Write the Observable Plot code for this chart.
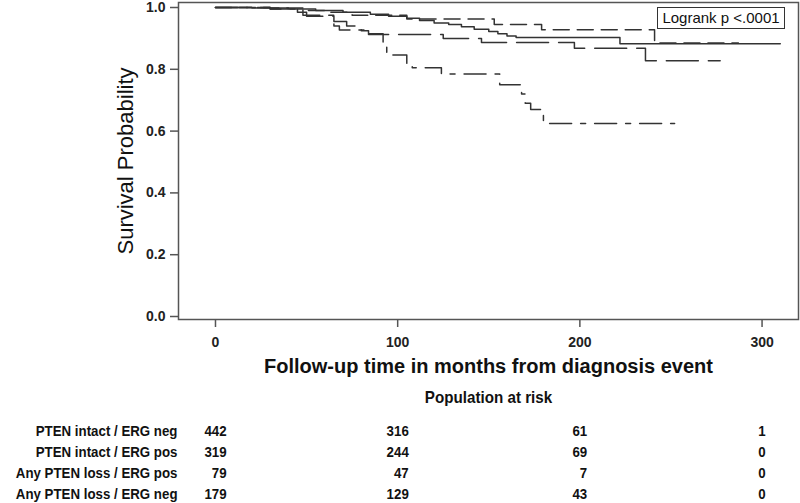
<!DOCTYPE html>
<html><head><meta charset="utf-8">
<script src="https://cdn.jsdelivr.net/npm/d3@7"></script>
<script src="https://cdn.jsdelivr.net/npm/@observablehq/plot@0.6"></script>
<style>
html,body{margin:0;padding:0;background:#fff;}
#wrap{position:relative;width:800px;height:503px;overflow:hidden;font-family:"Liberation Sans",Arial,sans-serif;}
#logrank{position:absolute;left:657px;top:7px;width:126px;height:20px;border:1px solid #333;font-size:15px;line-height:20px;text-align:center;color:#111;background:#fff;box-sizing:content-box;}
svg{display:block;}
.km text{font-family:"Liberation Sans",Arial,sans-serif;}
.km [aria-label="x-axis tick label"] text, .km [aria-label="y-axis tick label"] text{font-weight:bold;}
.risk text{font-family:"Liberation Sans",Arial,sans-serif;font-weight:bold;}
</style>
</head><body>
<div id="wrap"><div id="logrank">Logrank p &lt;.0001</div></div>
<script>
// ---- Data ----
const groups = ["PTEN intact / ERG neg", "PTEN intact / ERG pos", "Any PTEN loss / ERG pos", "Any PTEN loss / ERG neg"];

// PTEN intact / ERG neg (solid)
const intactNegTime = [0, 20, 40, 55, 70, 85, 95, 105, 112, 120, 128, 135, 142, 150, 155, 160, 165, 222, 310];
const intactNegSurv = [1.0, 0.998, 0.995, 0.99, 0.985, 0.978, 0.972, 0.965, 0.958, 0.95, 0.945, 0.938, 0.93, 0.922, 0.915, 0.908, 0.903, 0.883, 0.883];

// PTEN intact / ERG pos (short dash)
const intactPosTime = [0, 30, 50, 62, 75, 105, 153, 179, 241, 287];
const intactPosSurv = [1.0, 0.998, 0.99, 0.985, 0.975, 0.963, 0.945, 0.928, 0.885, 0.885];

// Any PTEN loss / ERG pos (dash-dot)
const lossPosTime = [0, 30, 48, 65, 68, 83, 92, 94, 105, 108, 124, 156, 168, 170, 173, 180, 252];
const lossPosSurv = [1.0, 0.995, 0.975, 0.94, 0.927, 0.915, 0.872, 0.846, 0.82, 0.805, 0.785, 0.75, 0.72, 0.69, 0.67, 0.625, 0.625];

// Any PTEN loss / ERG neg (long dash)
const lossNegTime = [0, 30, 45, 50, 65, 72, 80, 84, 125, 146, 197, 236, 277];
const lossNegSurv = [1.0, 0.995, 0.985, 0.972, 0.955, 0.94, 0.925, 0.913, 0.9, 0.887, 0.868, 0.828, 0.828];

// Population at risk
const riskTimes = [0, 100, 200, 300];
const intactNegRisk = [442, 316, 61, 1];
const intactPosRisk = [319, 244, 69, 0];
const lossPosRisk = [79, 47, 7, 0];
const lossNegRisk = [179, 129, 43, 0];

const xTicks = [0, 100, 200, 300];
const yTicks = [0, 0.2, 0.4, 0.6, 0.8, 1.0];

// ---- Build tables ----
const toSeries = (g, ts, ss) => ts.map((t, i) => ({group: g, t, s: ss[i]}));
const sIntactNeg = toSeries(groups[0], intactNegTime, intactNegSurv);
const sIntactPos = toSeries(groups[1], intactPosTime, intactPosSurv);
const sLossPos = toSeries(groups[2], lossPosTime, lossPosSurv);
const sLossNeg = toSeries(groups[3], lossNegTime, lossNegSurv);

const riskBy = [intactNegRisk, intactPosRisk, lossPosRisk, lossNegRisk];
const riskRows = [];
groups.forEach((g, gi) => riskTimes.forEach((t, ti) => riskRows.push({g, t, n: riskBy[gi][ti], col: ti})));

const xDomain = [-20.3, 320];
const lineColor = "#333";

const main = Plot.plot({
  width: 800, height: 380,
  marginLeft: 178, marginRight: 2, marginTop: 2, marginBottom: 61,
  className: "km",
  style: {fontFamily: "'Liberation Sans', Arial, sans-serif", color: "#222", background: "#fff"},
  x: {domain: xDomain},
  y: {domain: [-0.0097, 1.0162]},
  marks: [
    Plot.axisX({ticks: xTicks, tickSize: 8, tickPadding: 10, label: null, fontSize: 14, fontWeight: "bold", stroke: "#555", strokeWidth: 1.5}),
    Plot.axisY({ticks: yTicks, tickFormat: d3.format(".1f"), tickSize: 8, tickPadding: 5, label: null, fontSize: 14, fontWeight: "bold", stroke: "#555", strokeWidth: 1.5}),
    Plot.line(sIntactNeg, {x: "t", y: "s", curve: "step-after", stroke: lineColor, strokeWidth: 1.5}),
    Plot.line(sIntactPos, {x: "t", y: "s", curve: "step-after", stroke: lineColor, strokeWidth: 1.5, strokeDasharray: "16,8"}),
    Plot.line(sLossPos, {x: "t", y: "s", curve: "step-after", stroke: lineColor, strokeWidth: 1.5, strokeDasharray: "22,9,5,9"}),
    Plot.line(sLossNeg, {x: "t", y: "s", curve: "step-after", stroke: lineColor, strokeWidth: 1.5, strokeDasharray: "32,10"}),
    Plot.frame({stroke: "#555", strokeWidth: 1.5}),
    Plot.text(["Follow-up time in months from diagnosis event"], {frameAnchor: "bottom", dy: 53, fontSize: 20, fontWeight: "bold", fill: "#111"}),
    Plot.text(["Survival Probability"], {frameAnchor: "left", dx: -53, rotate: -90, textAnchor: "middle", fontSize: 22, fill: "#111"})
  ]
});

// condensed look of the risk table (horizontal squeeze around each anchor)
const squeeze = 0.95;
const riskFont = "bold 14px 'Liberation Sans', Arial, sans-serif";
const ctx = document.createElement("canvas").getContext("2d");
ctx.font = riskFont;
const colHalf = riskTimes.map((t, ti) => squeeze * d3.max(riskBy, r => ctx.measureText(String(r[ti])).width) / 2);

const risk = Plot.plot({
  width: 800, height: 123,
  marginLeft: 178, marginRight: 2, marginTop: 0, marginBottom: 0,
  className: "risk",
  style: {fontFamily: "'Liberation Sans', Arial, sans-serif", color: "#111", background: "#fff"},
  x: {domain: xDomain, axis: null},
  y: {type: "point", domain: groups, range: [50, 115], padding: 0, axis: null},
  marks: [
    Plot.axisY({tickSize: 0, tickPadding: 1, label: null, fontSize: 14, fontWeight: "bold"}),
    ...riskTimes.map((t, ti) => Plot.text(riskRows.filter(d => d.col === ti), {x: "t", y: "g", text: d => String(d.n), textAnchor: "end", dx: colHalf[ti], fontSize: 14, fontWeight: "bold", fill: "#111"})),
    Plot.text(["Population at risk"], {frameAnchor: "top", dy: 11, fontSize: 16, fontWeight: "bold", fill: "#111"})
  ]
});
risk.querySelectorAll("text").forEach(t => {
  const tr = t.getAttribute("transform") || "";
  t.setAttribute("transform", (tr + ` scale(${squeeze},1)`).trim());
});

const wrap = document.getElementById("wrap");
wrap.insertBefore(main, wrap.firstChild);
wrap.insertBefore(risk, document.getElementById("logrank"));
</script>
</body></html>
